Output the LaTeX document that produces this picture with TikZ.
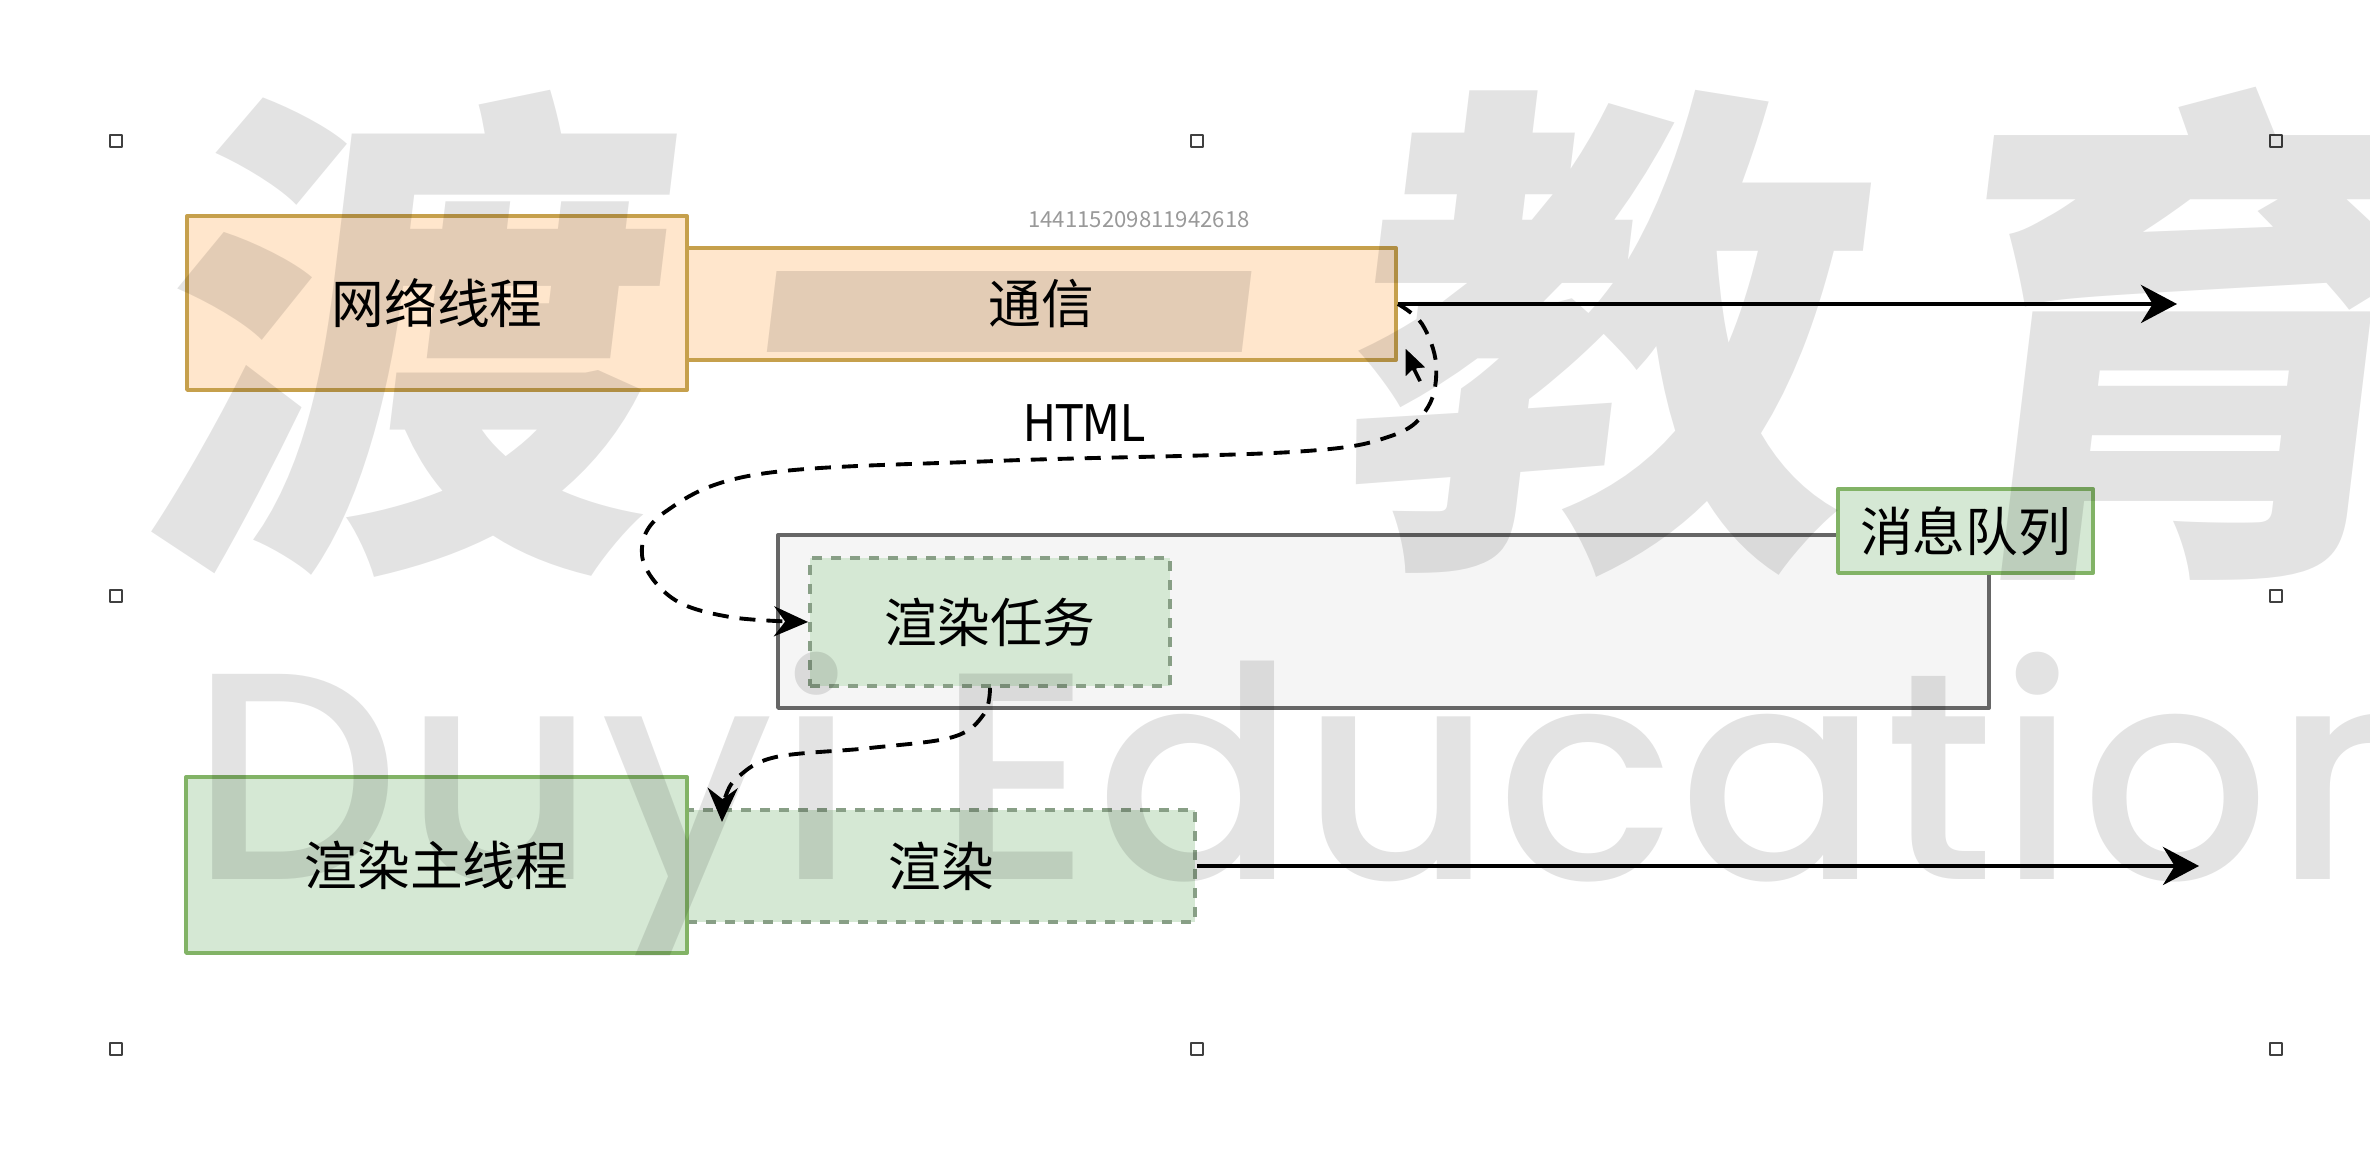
\documentclass[tikz,border=0pt]{standalone}
\usepackage{fontspec}
\setmainfont{Noto Sans CJK SC}
\newfontfamily\htmlfont[FakeStretch=0.86]{DejaVu Sans}
\newfontfamily\markcjk[FakeSlant=0.12]{Noto Sans CJK SC}
\newfontfamily\marklatin[LetterSpace=1.6]{Poppins Medium}
\usetikzlibrary{arrows.meta}
\definecolor{orangefill}{HTML}{FFE6CC}
\definecolor{orangeline}{HTML}{C6A04C}
\definecolor{greenfill}{HTML}{D5E8D4}
\definecolor{greenline}{HTML}{82B366}
\definecolor{dashline}{HTML}{889F86}
\definecolor{queuefill}{HTML}{F5F5F5}
\definecolor{queueline}{HTML}{666666}
\tikzset{
  box/.style={draw, line width=1.1pt, inner sep=0pt, font=\fontsize{15pt}{18pt}\selectfont},
  orangebox/.style={box, draw=orangeline, fill=orangefill},
  greenbox/.style={box, draw=greenline, fill=greenfill},
  dashbox/.style={greenbox, draw=dashline, dash pattern=on 1mm off 0.9mm},
  queuebox/.style={box, draw=queueline, fill=queuefill},
  flow/.style={line width=1.2pt, -{Stealth[length=3.6mm,width=3.8mm]}},
  msgflow/.style={line width=1.1pt, dash pattern=on 1.6mm off 1.1mm, -{Stealth[length=3.4mm,width=3mm]}},
  handle/.style={draw=black!75, fill=white, line width=0.5pt},
  wmtext/.style={text=black, text opacity=0.11, inner sep=0pt}
}
\begin{document}
\begin{tikzpicture}[x=0.1mm, y=-0.1mm, line join=round, >=Stealth]
\useasboundingbox (0,0) rectangle (2370,1152);
\node[orangebox, minimum width=70.9mm, minimum height=11.2mm] (comm) at (1041.5,304) {通信};
\node[orangebox, minimum width=50mm, minimum height=17.4mm] (net) at (437,303) {网络线程};
\node[text=black!40, font=\fontsize{6.3pt}{7pt}\selectfont] (id) at (1139,220) {144115209811942618};
\coordinate (netend) at (2177,304);
\draw[flow] (comm.east) -- (netend);

\node[queuebox, minimum width=121.1mm, minimum height=17.3mm] (queue) at (1383.5,621.5) {};
\node[greenbox, minimum width=25.5mm, minimum height=8.4mm] (msg) at (1965.5,531) {消息队列};
\node[dashbox, minimum width=36mm, minimum height=12.8mm] (task) at (990,622) {渲染任务};

\node[dashbox, minimum width=50.8mm, minimum height=11.2mm] (render) at (941,866) {渲染};
\node[greenbox, minimum width=50.1mm, minimum height=17.6mm] (main) at (436.5,865) {渲染主线程};
\coordinate (mainend) at (2199,866);
\draw[flow] (render.east) -- (mainend);

\node[font=\htmlfont\fontsize{14.4pt}{16pt}\selectfont] (html) at (1084,423) {HTML};
\draw[msgflow] plot[smooth, tension=0.6] coordinates {(comm.east) (1422,324) (1436,364) (1428,407) (1391,436) (1292,452) (995,461) (760,474) (665,512) (642,555) (672,598) (730,617) (task.west)};
\coordinate (renderin) at (722,822);
\draw[msgflow] plot[smooth, tension=0.6] coordinates {(task.south) (984,714) (953,737) (870,748) (776,757) (738,777) (725,798) (renderin)};

\draw[fill=black, draw=white, line width=0.4pt] (1405,347) -- (1405,378) -- (1412,371) -- (1418,383) -- (1423,381) -- (1417,369) -- (1427,368) -- cycle;

\foreach \hx/\hy in {116/141,1197/141,2276/141,116/596,2276/596,116/1049,1197/1049,2276/1049}
  \draw[handle] (\hx-6,\hy-6) rectangle (\hx+6,\hy+6);

\foreach \c/\x/\y [count=\i] in {渡/392/334,一/985/391,教/1588/334,育/2175/334}
  \node[wmtext, font=\markcjk\bfseries\fontsize{145pt}{150pt}\selectfont] (mark\i) at (\x,\y) {\c};
\node[wmtext, anchor=base west, font=\marklatin\fontsize{84pt}{90pt}\selectfont] (brand) at (190,880) {Duyi Education};
\end{tikzpicture}
\end{document}
